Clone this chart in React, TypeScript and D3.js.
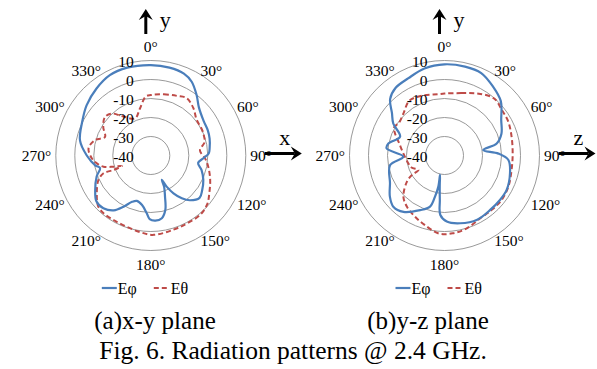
import React from "react";
import * as d3 from "d3";

// angle (deg, clockwise from +y) , gain (dB)
const xyEphi: [number, number][] = [
  [0, 7.6], [12, 7.3], [22, 6.5], [29, 4.4], [37, 0], [45, -4.2], [57, -6.8], [66, -7.2],
  [74, -7.8], [83, -8.8], [88, -9.5], [93, -12.3], [99, -14.8], [106, -12.2], [115, -9.5],
  [124, -7.4], [131, -6], [139, -8.8], [144, -12.2], [149, -16.8], [153, -21.6], [155.5, -26],
  [157, -22], [161, -17], [165, -10.4], [170, -6.5], [176, -5.6], [181, -6.5], [184, -9.5],
  [190, -13.5], [197, -15], [202, -13.7], [208, -9.5], [214, -5.2], [222, -2.7], [230, -2.6],
  [238, -5.5], [249, -9.5], [256, -12.5], [260, -10.3], [270, -6.3], [282, -1.9], [296, 0.2],
  [308, 2.9], [321, 5.4], [333, 7.5], [345, 7.9],
];
const xyEtheta: [number, number][] = [
  [0, -8.2], [12, -7.1], [24, -5.7], [32, -4.4], [42, -6.5], [52, -9.4], [63, -9.8], [70, -10.2],
  [76, -10.8], [84, -14], [93, -11.4], [101, -9.2], [112, -6.3], [123, -3.3], [131, -0.7],
  [140, 0.6], [152, 0.5], [163, 0.8], [178, 1.8], [188, 0.7], [199, -0.4], [210, -0.8],
  [219, -0.7], [226, -1.5], [235, -5.3], [245, -9.6], [249.4, -13.4], [248.8, -18.9],
  [250, -23.8], [253.3, -19.5], [256.7, -14.4], [261.7, -11.3], [267.3, -8.9], [276.6, -7],
  [285.6, -9.6], [292, -14], [301, -10.8], [310, -8.5], [317, -9.8], [325, -15], [337, -18.8],
  [347, -14.6], [355, -8.9],
];
const yzEphi: [number, number][] = [
  [0, 8], [13, 8], [24, 7.5], [35, 4.4], [46, 1.2], [58, -4.8], [69, -7.9], [77, -11.8],
  [82, -19.4], [88, -11.6], [94, -6.3], [105, -4.3], [119, -2.6], [129, -2.6], [140, -2.6],
  [153, -2.1], [167, -3.4], [178, -5.2], [184, -8.6], [186, -16.5], [189, -24], [193, -29.5],
  [191.2, -23.3], [193, -17.8], [195.8, -12], [204, -8.5], [216, -3.3], [225, -1.9], [233, -4],
  [243, -7.8], [260, -10.9], [268.4, -18.3], [277, -9.3], [282, -9.8], [293, -14.6], [302, -8.2],
  [309, -4.4], [316, 1.2], [324, 3.9], [335, 4.9], [347, 7],
];
const yzEtheta: [number, number][] = [
  [0, -7.4], [15, -6], [29, -2.8], [41, -0.2], [52, -1.5], [62, -2], [74, -3.3], [88, -4.1],
  [102, -3.9], [116, -2.6], [128, -1.9], [139, -2.1], [150, -2], [163, 0.1], [174, 1.2],
  [184, 1.2], [196, -2], [206, -4.3], [216, -6.5], [225, -9.4], [235, -15.8], [239, -19.9],
  [241, -24.3], [250, -21.5], [258, -20.5], [273, -18.3], [286, -15], [294, -11.5], [299, -9.6],
  [306, -10.5], [316, -9], [327, -5.8], [339, -6.3], [354, -7.6],
];

const ringTicks = [-30, -20, -10, 0, 10];
const ringLabels = [10, 0, -10, -20, -30, -40];
const angleTicks = d3.range(0, 360, 30);

const BLUE = "#4a7ebb";
const RED = "#be4b48";
const FONT = "'Liberation Serif', 'Times New Roman', serif";

const r = d3.scaleLinear().domain([-40, 10]).range([0, 95]);

function Arrow({ x1, y1, x2, y2 }: { x1: number; y1: number; x2: number; y2: number }) {
  const a = Math.atan2(y2 - y1, x2 - x1);
  const len = 11, w = 7;
  const bx = x2 - len * Math.cos(a), by = y2 - len * Math.sin(a);
  const nx = -Math.sin(a), ny = Math.cos(a);
  const mx = x2 - 7 * Math.cos(a), my = y2 - 7 * Math.sin(a);
  return (
    <g>
      <line x1={x1} y1={y1} x2={mx} y2={my} stroke="#000" strokeWidth={3} />
      <path
        d={`M${x2},${y2} L${bx + nx * w},${by + ny * w} L${mx},${my} L${bx - nx * w},${by - ny * w} Z`}
        fill="#000"
      />
    </g>
  );
}

function Polar({
  cx, cy, phi, theta, axis, caption, captionX,
}: {
  cx: number; cy: number; phi: [number, number][]; theta: [number, number][];
  axis: string; caption: string; captionX: number;
}) {
  const line = d3
    .lineRadial<[number, number]>()
    .angle((d) => (d[0] * Math.PI) / 180)
    .radius((d) => r(d[1]))
    .curve(d3.curveCatmullRomClosed.alpha(0.5));

  const R = 99.5;
  return (
    <g fontFamily={FONT} fill="#000">
      {ringTicks.map((t) => (
        <circle key={t} cx={cx} cy={cy} r={r(t)} fill="none" stroke="#7f7f7f" strokeWidth={0.8} />
      ))}
      <g transform={`translate(${cx},${cy})`}>
        <path d={line(theta) || ""} fill="none" stroke={RED} strokeWidth={2} strokeDasharray="5,3" />
        <path d={line(phi) || ""} fill="none" stroke={BLUE} strokeWidth={2.2} />
      </g>
      {ringLabels.map((v) => (
        <text key={v} x={cx - 17} y={cy - r(v) + 1} textAnchor="end" dominantBaseline="central" fontSize={15.5}>
          {v}
        </text>
      ))}
      {angleTicks.map((a) => {
        const s = Math.sin((a * Math.PI) / 180);
        const c = Math.cos((a * Math.PI) / 180);
        const onAxis = Math.abs(s) < 0.01;
        const x = cx + s * R;
        const y = cy - c * 98 - (onAxis ? Math.sign(c) * 11 : 0);
        return (
          <text
            key={a}
            x={x}
            y={y}
            textAnchor={onAxis ? "middle" : s > 0 ? "start" : "end"}
            dominantBaseline="central"
            fontSize={15.5}
          >
            {a}°
          </text>
        );
      })}
      <Arrow x1={cx - 5} y1={34} x2={cx - 5} y2={9} />
      <text x={cx + 9} y={27} fontSize={22}>y</text>
      <Arrow x1={cx + 114} y1={153.5} x2={cx + 151} y2={153.5} />
      <text x={cx + 134} y={145} textAnchor="middle" fontSize={22}>{axis}</text>
      <line x1={cx - 49} x2={cx - 34} y1={288} y2={288} stroke={BLUE} strokeWidth={2.2} />
      <text x={cx - 33} y={288} dominantBaseline="central" fontSize={16}>Eφ</text>
      <line x1={cx + 3} x2={cx + 19} y1={288} y2={288} stroke={RED} strokeWidth={2} strokeDasharray="5,3" />
      <text x={cx + 20} y={288} dominantBaseline="central" fontSize={16}>Eθ</text>
      <text x={captionX} y={329} textAnchor="middle" fontSize={25}>{caption}</text>
    </g>
  );
}

export default function App() {
  return (
    <svg
      width={597}
      height={369}
      style={{ position: "absolute", left: 0, top: 0, background: "#fff" }}
    >
      <rect width={597} height={369} fill="#fff" />
      <Polar cx={150.8} cy={155.5} phi={xyEphi} theta={xyEtheta} axis="x" caption="(a)x-y plane" captionX={155} />
      <Polar cx={444.5} cy={155.5} phi={yzEphi} theta={yzEtheta} axis="z" caption="(b)y-z plane" captionX={428} />
      <text x={293} y={359} textAnchor="middle" fontSize={25.5} fontFamily={FONT}>
        Fig. 6. Radiation patterns @ 2.4 GHz.
      </text>
    </svg>
  );
}
